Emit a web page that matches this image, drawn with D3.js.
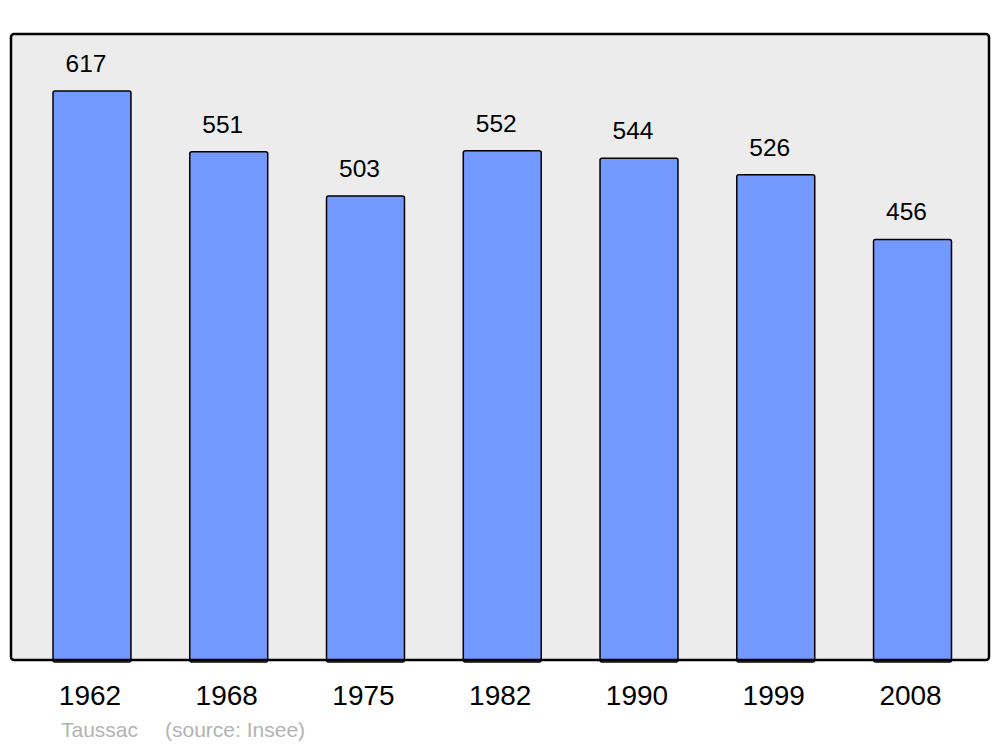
<!DOCTYPE html>
<html><head><meta charset="utf-8">
<script src="https://cdn.jsdelivr.net/npm/d3@7"></script>
<style>body{margin:0;background:#fff;} svg{display:block;}</style>
</head><body>
<script>
const years = ["1962","1968","1975","1982","1990","1999","2008"];
const population = [617,551,503,552,544,526,456];
const caption = ["Taussac", "(source: Insee)"];

const W = 1000, H = 747;
const svg = d3.select("body").append("svg").attr("width", W).attr("height", H);
const frame = {x0: 11, x1: 989, y0: 34, y1: 660};

svg.append("rect").attr("x", frame.x0).attr("y", frame.y0)
  .attr("width", frame.x1 - frame.x0).attr("height", frame.y1 - frame.y0)
  .attr("rx", 3).attr("fill", "#ececec").attr("stroke", "none");

const x = d3.scaleBand().domain(years).range([23.6, 980.9]).paddingInner(0.43).paddingOuter(0.215);
const y = d3.scaleLinear().domain([0, d3.max(population) * 1.1]).range([frame.y1, frame.y0]);

const data = years.map((yr, i) => ({yr, v: population[i]}));

svg.append("g").selectAll("rect").data(data).join("rect")
  .attr("x", d => x(d.yr)).attr("y", d => y(d.v))
  .attr("width", x.bandwidth()).attr("height", d => y(0) - y(d.v) + 2)
  .attr("rx", 2).attr("fill", "#7399ff").attr("stroke", "#000").attr("stroke-width", 1.5);

svg.append("g").selectAll("text").data(data).join("text")
  .attr("x", d => x(d.yr) + x.bandwidth()/2 - 6).attr("y", d => y(d.v) - 19)
  .attr("text-anchor", "middle").attr("font-family", "Liberation Sans, Arial, sans-serif")
  .attr("font-size", 24.5).attr("fill", "#000").text(d => d.v);

// frame border on top
svg.append("rect").attr("x", frame.x0).attr("y", frame.y0)
  .attr("width", frame.x1 - frame.x0).attr("height", frame.y1 - frame.y0)
  .attr("rx", 3).attr("fill", "none").attr("stroke", "#000").attr("stroke-width", 2.5);

const xAxis = svg.append("g").attr("transform", `translate(0,${frame.y1})`)
  .call(d3.axisBottom(x).tickSize(0).tickPadding(0));
xAxis.select(".domain").remove();
xAxis.selectAll("text").attr("dy", null).attr("y", 45).attr("dx", -2)
  .attr("font-family", "Liberation Sans, Arial, sans-serif").attr("font-size", 28).attr("fill", "#000");

svg.append("text").attr("x", 61).attr("y", 737)
  .attr("font-family", "Liberation Sans, Arial, sans-serif").attr("font-size", 21).attr("fill", "#b3b3b3")
  .text(caption[0]);
svg.append("text").attr("x", 165).attr("y", 737)
  .attr("font-family", "Liberation Sans, Arial, sans-serif").attr("font-size", 21).attr("fill", "#b3b3b3")
  .text(caption[1]);
</script>
</body></html>
